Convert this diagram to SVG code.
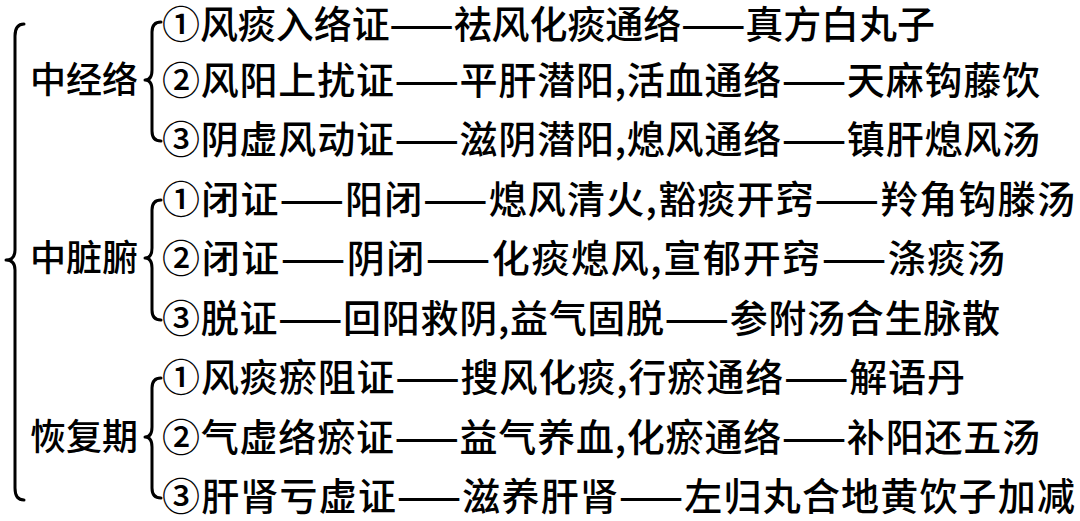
<svg xmlns="http://www.w3.org/2000/svg" width="1080" height="521" viewBox="0 0 1080 521">
<style>
text{font-family:"Noto Sans CJK SC","Noto Sans CJK JP",sans-serif;font-size:38px;font-weight:500;fill:#000;}
.lb{font-size:36px;}
.br{fill:none;stroke:#000;stroke-width:3;stroke-linecap:round;stroke-linejoin:round;}
</style>
<rect width="1080" height="521" fill="#fff"/>
<g id="connectors">
<path class="br" d="M24 24 Q15 24 15 36 L15 250 Q15 260 6 260 Q15 260 15 270 L15 488 Q15 500 24 500"/>
<path class="br" d="M161 22 Q152 22 152 32 L152 70 Q152 80 145 80 Q152 80 152 90 L152 131 Q152 141 161 141"/>
<path class="br" d="M161 200 Q152 200 152 210 L152 248 Q152 258 145 258 Q152 258 152 268 L152 310 Q152 320 161 320"/>
<path class="br" d="M161 378 Q152 378 152 388 L152 427 Q152 437 145 437 Q152 437 152 447 L152 488 Q152 498 161 498"/>
</g>
<g id="g1">
<text class="lb" x="30" y="93">中经络</text>
<text x="162" y="37.5" textLength="773" lengthAdjust="spacing">①风痰入络证——祛风化痰通络——真方白丸子</text>
<text x="162" y="94" textLength="878" lengthAdjust="spacing">②风阳上扰证——平肝潜阳,活血通络——天麻钩藤饮</text>
<text x="162" y="153" textLength="878" lengthAdjust="spacing">③阴虚风动证——滋阴潜阳,熄风通络——镇肝熄风汤</text>
</g>
<g id="g2">
<text class="lb" x="30" y="271">中脏腑</text>
<text x="162" y="213" textLength="913" lengthAdjust="spacing">①闭证——阳闭——熄风清火,豁痰开窍——羚角钩滕汤</text>
<text x="162" y="272" textLength="843" lengthAdjust="spacing">②闭证——阴闭——化痰熄风,宣郁开窍——涤痰汤</text>
<text x="162" y="332" textLength="838" lengthAdjust="spacing">③脱证——回阳救阴,益气固脱——参附汤合生脉散</text>
</g>
<g id="g3">
<text class="lb" x="30" y="450">恢复期</text>
<text x="162" y="391" textLength="803" lengthAdjust="spacing">①风痰瘀阻证——搜风化痰,行瘀通络——解语丹</text>
<text x="162" y="451" textLength="878" lengthAdjust="spacing">②气虚络瘀证——益气养血,化瘀通络——补阳还五汤</text>
<text x="162" y="510" textLength="913" lengthAdjust="spacing">③肝肾亏虚证——滋养肝肾——左归丸合地黄饮子加减</text>
</g>
</svg>
